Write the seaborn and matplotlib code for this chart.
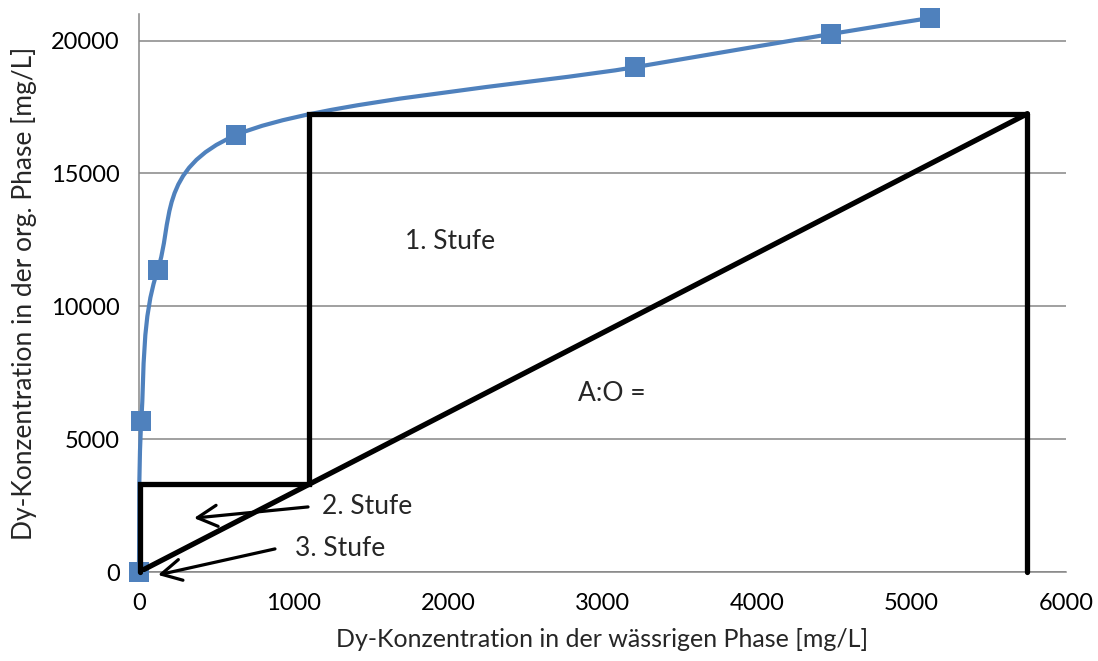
import numpy as np
import matplotlib
matplotlib.use("Agg")
import matplotlib.pyplot as plt
from matplotlib.path import Path
from matplotlib.patches import PathPatch
import seaborn as sns
import pandas as pd

# Extraction isotherm (aqueous vs. organic Dy concentration, mg/L)
aq_conc = [0, 15, 120, 630, 3210, 4480, 5120]
org_conc = [0, 5700, 11350, 16450, 19000, 20250, 20850]

# McCabe-Thiele construction
feed_x = 5750
feed_y = 17250
steps_x = [feed_x, 1100, 1100, 8, 8]
steps_y = [feed_y, feed_y, 3300, 3300, 0]

x_ticks = [0, 1000, 2000, 3000, 4000, 5000, 6000]
y_ticks = [0, 5000, 10000, 15000, 20000]

BLUE = "#4F81BD"
GRID = "#868686"

sns.set_theme(style="white")
plt.rcParams["font.family"] = ["Lato", "DejaVu Sans"]

fig = plt.figure(figsize=(10.98, 6.61), dpi=100)
ax = fig.add_axes([0.1266, 0.1346, 0.9709 - 0.1266, 0.9788 - 0.1346])

ax.set_xlim(0, 6000)
ax.set_ylim(0, 21000)
ax.set_xticks(x_ticks)
ax.set_yticks(y_ticks)
ax.yaxis.grid(True, color=GRID, linewidth=1.1)
ax.xaxis.grid(False)
for side in ("top", "right"):
    ax.spines[side].set_visible(False)
for side in ("left", "bottom"):
    ax.spines[side].set_color(GRID)
    ax.spines[side].set_linewidth(1.1)
ax.tick_params(axis="both", which="major", direction="out", length=6, width=1.1,
               color=GRID, labelsize=17, labelcolor="black")
ax.tick_params(axis="y", pad=8)
ax.tick_params(axis="x", pad=9)
ax.set_axisbelow(True)

# Smoothed isotherm: Catmull-Rom segments as cubic Bezier curves
pts = np.column_stack([aq_conc, org_conc]).astype(float)
verts = [pts[0]]
codes = [Path.MOVETO]
n = len(pts)
for i in range(n - 1):
    p0 = pts[i - 1] if i > 0 else pts[i]
    p1 = pts[i]
    p2 = pts[i + 1]
    p3 = pts[i + 2] if i + 2 < n else pts[i + 1]
    c1 = p1 + (p2 - p0) / 6.0
    c2 = p2 - (p3 - p1) / 6.0
    verts += [c1, c2, p2]
    codes += [Path.CURVE4] * 3
curve = PathPatch(Path(verts, codes), facecolor="none", edgecolor=BLUE,
                  linewidth=3.0, transform=ax.transData, zorder=3, clip_on=False)
ax.add_patch(curve)

iso = pd.DataFrame({"aq": aq_conc, "org": org_conc})
sns.scatterplot(data=iso, x="aq", y="org", ax=ax, marker="s", s=195,
                color=BLUE, edgecolor=BLUE, linewidth=0, zorder=4, clip_on=False)

# Operating line, stage steps and feed vertical
lw = 3.8
ax.plot([0, feed_x], [0, feed_y], color="black", lw=lw, solid_capstyle="round", zorder=5)
ax.plot(steps_x, steps_y, color="black", lw=lw, solid_capstyle="round",
        solid_joinstyle="miter", zorder=5, clip_on=False)
ax.plot([feed_x, feed_x], [feed_y, 0], color="black", lw=lw, solid_capstyle="round",
        zorder=5, clip_on=False)

fs = 19
ax.text(2013, 12430, "1. Stufe", fontsize=fs, ha="center", va="center")
ax.text(2840, 6700, "A:O =", fontsize=fs, ha="left", va="center")

arrow = dict(arrowstyle="->,head_length=0.75,head_width=0.4", color="black", lw=2.3,
             shrinkA=0, shrinkB=0)
ax.annotate("", xy=(356, 2030), xytext=(1094, 2450), arrowprops=arrow,
            annotation_clip=False, fontsize=fs)
ax.text(1184, 2450, "2. Stufe", fontsize=fs, ha="left", va="center")
ax.annotate("", xy=(123, -110), xytext=(880, 870), arrowprops=arrow,
            annotation_clip=False, fontsize=fs)
ax.text(1010, 900, "3. Stufe", fontsize=fs, ha="left", va="center")

ax.set_xlabel("Dy-Konzentration in der wässrigen Phase [mg/L]", fontsize=18, labelpad=10)
ax.set_ylabel("Dy-Konzentration in der org. Phase [mg/L]", fontsize=19, labelpad=10)

fig.savefig("out.png", dpi=100)
